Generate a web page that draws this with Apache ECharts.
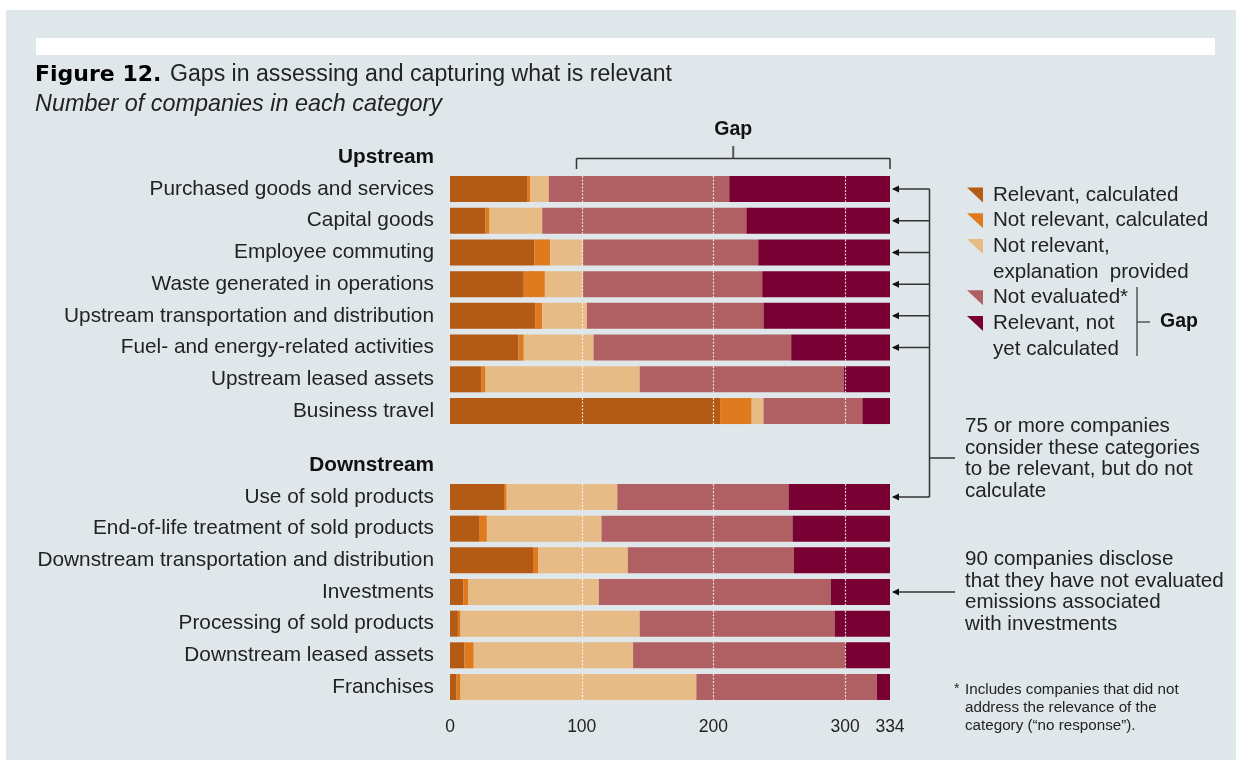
<!DOCTYPE html>
<html>
<head>
<meta charset="utf-8">
<script src="https://cdn.jsdelivr.net/npm/echarts@6/dist/echarts.min.js"></script>
<style>
html,body{margin:0;padding:0;background:#ffffff;}
#chart{width:1236px;height:760px;}
</style>
</head>
<body>
<div id="chart"></div>
<script>
// ---------- data ----------
const upstreamHeader = 'Upstream';
const downstreamHeader = 'Downstream';
const categoriesUp = ['Purchased goods and services','Capital goods','Employee commuting','Waste generated in operations','Upstream transportation and distribution','Fuel- and energy-related activities','Upstream leased assets','Business travel'];
const categoriesDown = ['Use of sold products','End-of-life treatment of sold products','Downstream transportation and distribution','Investments','Processing of sold products','Downstream leased assets','Franchises'];
const seriesNames = ['Relevant, calculated','Not relevant, calculated','Not relevant, explanation provided','Not evaluated*','Relevant, not yet calculated'];

const relCalcUp     = [59, 27, 64, 56, 65, 52, 24, 205];
const notRelCalcUp  = [2, 3, 12, 16, 5, 4, 3, 24];
const notRelExplUp  = [14, 40, 25, 29, 34, 53, 117, 9];
const notEvalUp     = [137, 155, 133, 136, 134, 150, 155, 75];
const relNotCalcUp  = [122, 109, 100, 97, 96, 75, 35, 21];

const relCalcDown    = [41, 22, 63, 10, 6, 11, 5];
const notRelCalcDown = [2, 6, 4, 4, 2, 7, 3];
const notRelExplDown = [84, 87, 68, 99, 136, 121, 179];
const notEvalDown    = [130, 145, 126, 176, 148, 161, 137];
const relNotCalcDown = [77, 74, 73, 45, 42, 34, 10];

const xTicks = [0, 100, 200, 300, 334];
const gridValues = [100, 200, 300];
const totalCompanies = 334;
const gapStart = 96;

const arrowRowsUp = ['Purchased goods and services','Capital goods','Employee commuting','Waste generated in operations','Upstream transportation and distribution','Fuel- and energy-related activities'];
const arrowRowsDown = ['Use of sold products'];
const note75 = ['75 or more companies','consider these categories','to be relevant, but do not','calculate'];
const note90 = ['90 companies disclose','that they have not evaluated','emissions associated','with investments'];
const footnote = ['Includes companies that did not','address the relevance of the','category (\u201cno response\u201d).'];
const legendLines = [['Relevant, calculated'],['Not relevant, calculated'],['Not relevant,','explanation  provided'],['Not evaluated*'],['Relevant, not','yet calculated']];

// ---------- style ----------
const colors = ['#b35a15','#e07a1f','#e6bb85','#b06063','#780032'];
const FONT = '"Liberation Sans", Arial, Helvetica, sans-serif';
const TXT = '#222222';
const BG = '#e0e7ea';

const upData = [relCalcUp, notRelCalcUp, notRelExplUp, notEvalUp, relNotCalcUp];
const downData = [relCalcDown, notRelCalcDown, notRelExplDown, notEvalDown, relNotCalcDown];

const chart = echarts.init(document.getElementById('chart'), null, {renderer:'canvas'});

function labelFormatter(v){
  if (v === upstreamHeader || v === downstreamHeader) return '{h|' + v + '}';
  return v;
}
function yAxisCfg(gi, header, cats){
  return {
    gridIndex: gi, type:'category', inverse:true,
    data: [header].concat(cats),
    axisLine:{show:false}, axisTick:{show:false}, splitLine:{show:false},
    axisLabel:{
      margin:16, fontSize:20.8, color:TXT, fontFamily:FONT,
      formatter: labelFormatter,
      rich:{h:{fontWeight:'bold', fontSize:20.8, color:'#111', fontFamily:FONT}}
    }
  };
}
function xAxisCfg(gi, showLabels){
  return {
    gridIndex: gi, type:'value', min:0, max:totalCompanies, interval:100,
    axisLine:{show:false}, axisTick:{show:false}, splitLine:{show:false},
    axisLabel: showLabels ? {show:true, customValues: xTicks, showMaxLabel:true, fontSize:17.5, color:TXT, fontFamily:FONT, margin:15} : {show:false}
  };
}
function barSeries(gi, dataSets){
  return dataSets.map((arr, i) => ({
    type:'bar', name: seriesNames[i], stack:'s' + gi,
    xAxisIndex: gi, yAxisIndex: gi,
    barWidth: 26,
    itemStyle:{color: colors[i]},
    data: [null].concat(arr),
    silent:true
  }));
}
function dotSeries(gi, cats){
  return {
    type:'custom', xAxisIndex:gi, yAxisIndex:gi, silent:true, z:10,
    data: cats.map((c, i) => [0, i + 1]),
    encode:{x:0, y:1},
    renderItem: function(params, api){
      const cy = api.coord([0, api.value(1)])[1];
      const children = gridValues.map(v => {
        const x = Math.round(api.coord([v, api.value(1)])[0]) + 0.5;
        return {type:'line', shape:{x1:x, y1:cy-13, x2:x, y2:cy+13},
          style:{stroke:'rgba(255,255,255,0.8)', lineWidth:1.2, lineDash:[2,1.5]}};
      });
      return {type:'group', children};
    }
  };
}

chart.setOption({
  backgroundColor:'#ffffff',
  animation:false,
  textStyle:{fontFamily:FONT},
  grid:[
    {left:450, right:346, top:141.4, height:285.5},
    {left:450, right:346, top:449.5, height:253.3}
  ],
  xAxis:[xAxisCfg(0,false), xAxisCfg(1,true)],
  yAxis:[yAxisCfg(0, upstreamHeader, categoriesUp), yAxisCfg(1, downstreamHeader, categoriesDown)],
  series: barSeries(0, upData).concat(barSeries(1, downData)).concat([dotSeries(0, categoriesUp), dotSeries(1, categoriesDown)])
});

// ---------- annotations ----------
const g = [];
g.push({type:'rect', z:-10, silent:true, shape:{x:6, y:10, width:1230, height:750}, style:{fill:BG}});
g.push({type:'rect', z:-9, silent:true, shape:{x:36, y:38, width:1179, height:17}, style:{fill:'#ffffff'}});
function txt(x, y, text, opts){
  opts = opts || {};
  g.push({type:'text', silent:true, z:20, style:{
    x:x, y:y, text:text, fill: opts.fill || TXT,
    fontSize: opts.size || 20.6, fontFamily: opts.family || FONT,
    fontWeight: opts.weight || 'normal', fontStyle: opts.style || 'normal',
    align: opts.align || 'left', verticalAlign:'middle',
    textAlign: opts.align || 'left', textVerticalAlign:'middle'
  }});
}
function line(x1, y1, x2, y2, stroke, w){
  g.push({type:'line', silent:true, z:20, shape:{x1, y1, x2, y2}, style:{stroke: stroke || '#333', lineWidth: w || 1.5}});
}
function arrowHead(x, y){
  g.push({type:'polygon', silent:true, z:21, shape:{points:[[x, y],[x+7, y-3.5],[x+7, y+3.5]]}, style:{fill:'#111'}});
}

// title
txt(35, 75, 'Figure 12.', {size:22, weight:'bold', family:'"DejaVu Sans", sans-serif', fill:'#000'});
txt(170, 75, 'Gaps in assessing and capturing what is relevant', {size:23.1});
txt(35, 104, 'Number of companies in each category', {size:23.4, style:'italic'});

const xEnd = chart.convertToPixel({xAxisIndex:0}, totalCompanies);
const xGap = chart.convertToPixel({xAxisIndex:0}, gapStart);
const xMid = (xEnd + xGap) / 2;

// gap bracket on top
line(xGap, 158.5, xEnd, 158.5, '#333', 1.5);
line(xGap, 158.5, xGap, 169, '#333', 1.5);
line(xEnd, 158.5, xEnd, 169, '#333', 1.5);
line(xMid, 146, xMid, 158.5, '#555', 2);
txt(xMid, 130, 'Gap', {size:19.5, weight:'bold', align:'center', fill:'#111'});

// arrows to categories where 75+ companies do not calculate
const vx = 929.5;
const ys = [];
arrowRowsUp.forEach(c => ys.push(chart.convertToPixel({yAxisIndex:0}, c)));
arrowRowsDown.forEach(c => ys.push(chart.convertToPixel({yAxisIndex:1}, c)));
ys.forEach(y => { line(xEnd + 3, y, vx, y, '#333', 1.5); arrowHead(xEnd + 2, y); });
line(vx, ys[0], vx, ys[ys.length - 1], '#333', 1.5);
const branchY = 458;
line(vx, branchY, 955, branchY, '#333', 1.5);
note75.forEach((t, i) => txt(965, 426.5 + i * 21.5, t));

// investments arrow
const yInv = chart.convertToPixel({yAxisIndex:1}, 'Investments');
line(xEnd + 3, yInv, 955, yInv, '#333', 1.5);
arrowHead(xEnd + 2, yInv);
note90.forEach((t, i) => txt(965, 559.5 + i * 21.5, t));

// footnote
txt(954, 689, '*', {size:14});
footnote.forEach((t, i) => txt(965, 690 + i * 18, t, {size:15.2}));

// legend
let ly = 195;
legendLines.forEach((lines, i) => {
  g.push({type:'polygon', silent:true, z:20, shape:{points:[[967, ly-7.5],[983, ly-7.5],[983, ly+7.5]]}, style:{fill: colors[i]}});
  lines.forEach((t, j) => txt(993, ly + j * 25.7, t));
  ly += lines.length * 25.7;
});
line(1137, 287, 1137, 356, '#555', 1.5);
line(1137, 322, 1150, 322, '#555', 1.5);
txt(1160, 322, 'Gap', {size:19.5, weight:'bold', fill:'#111'});

chart.setOption({graphic:{elements:g}});
</script>
</body>
</html>
